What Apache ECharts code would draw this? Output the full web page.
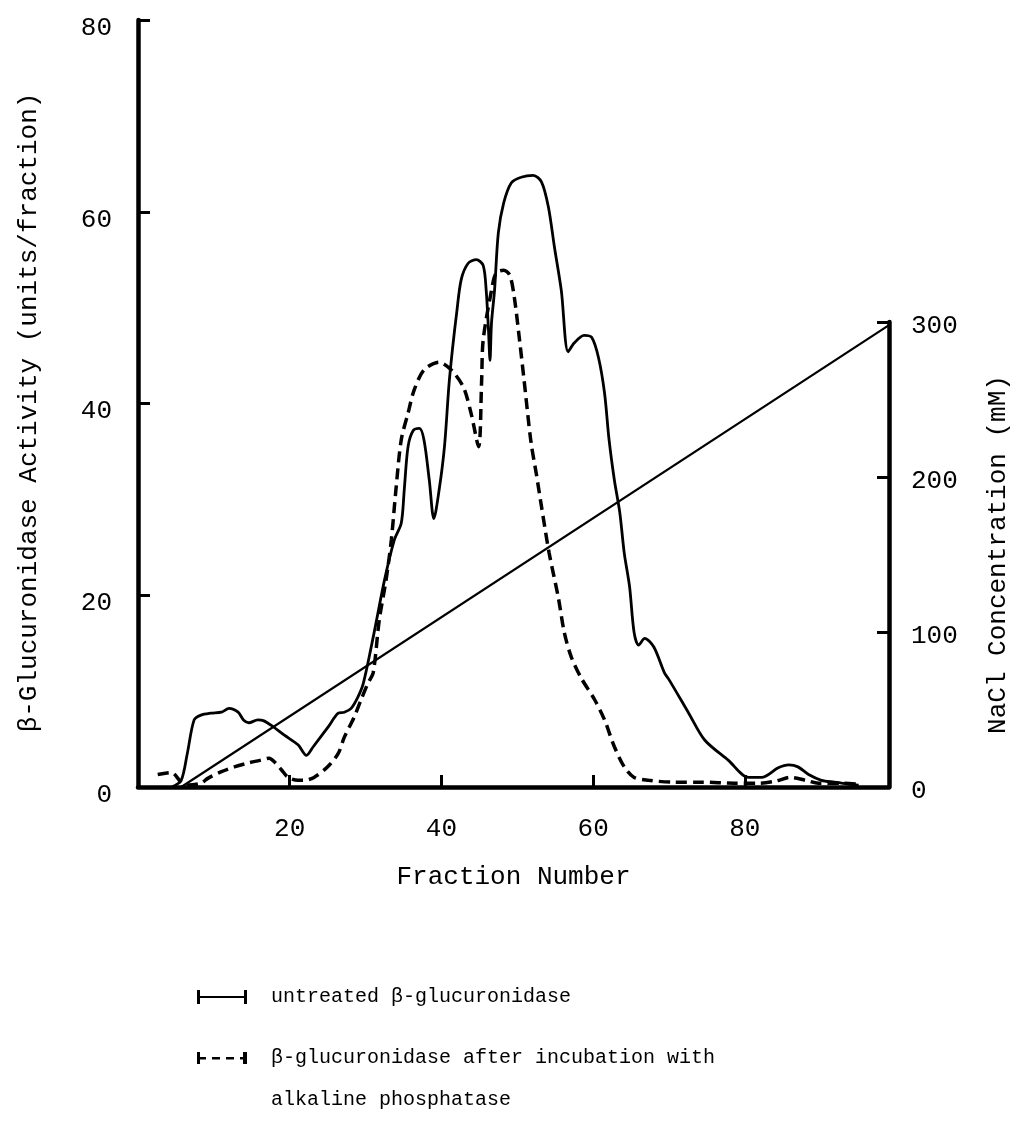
<!DOCTYPE html>
<html><head><meta charset="utf-8">
<script src="https://cdn.jsdelivr.net/npm/echarts@6/dist/echarts.min.js"></script>
<style>html,body{margin:0;padding:0;background:#fff}#c{width:1022px;height:1123px}</style>
</head><body><div id="c"></div>
<script>
// ---- data ----
const untreatedX = [4.5,5.7,6.5,7.4,8.3,9.6,11,12,13.2,13.9,14.6,15.8,16.6,17.8,19.3,21.1,22.2,23.1,25.1,26.4,27.2,28.1,29,29.7,31.1,32.5,33.8,34.7,35.1,35.6,36.3,37.1,37.7,38.4,39.0,39.7,40.4,41,41.5,42,42.6,43.5,44.6,45.5,45.9,46.2,46.4,46.6,47,47.5,48.2,49.2,50.5,52.1,53.2,54.1,54.9,55.8,56.7,57.5,58.8,59.8,60.7,61.5,62.1,62.8,63.5,64.1,64.8,65.4,66,66.8,68,69.4,70,72.6,74.7,77.8,80.5,82.2,84.4,85.8,87,88.4,90.1,91.8,93.7,95];
const untreatedY = [0,0.7,3.5,7,7.5,7.7,7.8,8.2,7.8,7.0,6.7,7.0,6.9,6.3,5.4,4.4,3.3,4.2,6.3,7.7,7.8,8.2,9.4,10.8,16,21.6,25.8,27.5,31,35.5,37.2,37.4,36.2,32,28,31,35.5,42,46,49.4,52.9,54.6,55,54.4,51.8,47.7,44.5,48.4,51.8,57.8,60.9,63,63.6,63.8,63.1,60.5,56.3,51.8,45.4,46.3,47.1,46.9,44.8,41.1,36.2,32,28.7,24.4,20.9,16.1,14.8,15.5,14.6,11.9,11.2,7.7,4.9,2.8,1.0,1.0,2.0,2.3,2.1,1.3,0.7,0.5,0.3,0.2];
const treatedX = [2.6,4.4,5.7,6.6,8.3,9.2,11,12.7,14.5,16.2,17.3,18,18.9,19.8,21.1,21.9,23.2,25,26.4,27.2,28.5,29.4,30.3,31,31.8,32.7,33.4,34,34.7,35.6,36.4,37.7,39.7,41.3,42.9,43.9,44.9,45.3,45.5,46.6,47.2,48.2,49,49.6,50.3,50.9,51.8,52.5,53.2,54.2,55.4,56.2,57.1,58.4,60.2,61.5,62.8,64.1,65.4,67.3,70.7,74.3,78.6,82,84,86,88,89.7,93,95];
const treatedY = [1.3,1.5,0.5,0.2,0.4,0.9,1.6,2.1,2.5,2.8,3.0,2.6,1.8,1.0,0.7,0.7,1.0,2.1,3.5,5.2,7.3,9.1,10.8,11.9,17.4,21.6,25.8,31,36.2,39,41.4,43.5,44.3,43.5,41.7,39,35.5,42.4,46.6,51.8,53.6,53.9,53.4,51.1,46.6,42.4,36,32.7,29.2,24.4,19.8,16.1,13.6,11.4,9.1,7,4.2,2.1,1.0,0.7,0.5,0.5,0.4,0.4,0.6,1.0,0.7,0.4,0.4,0.3];
const naclX = [5.7, 99];
const naclY = [0, 298];
const activityTicks = {min: 0, max: 80, interval: 20};
const naclTicks = {min: 0, max: 300, interval: 100};
const fractionTicks = {min: 0, max: 99, interval: 20};
const seriesNames = ['untreated β-glucuronidase', 'β-glucuronidase after incubation with\nalkaline phosphatase', 'NaCl'];

const zip = (xs, ys) => xs.map((x, i) => [x, ys[i]]);
const FONT = "'Liberation Mono', 'DejaVu Sans Mono', monospace";
const BLACK = '#000';
const FS = 26;

const chart = echarts.init(document.getElementById('c'), null, {renderer: 'canvas'});
const axisLine = {show: true, onZero: false, lineStyle: {color: BLACK, width: 4.5}};
const axisTick = {show: true, inside: true, length: 12, lineStyle: {color: BLACK, width: 3}};

chart.setOption({
  backgroundColor: '#fff',
  animation: false,
  textStyle: {fontFamily: FONT, color: BLACK},
  grid: [
    {left: 138, right: 133, top: 20, bottom: 336},
    {left: 138, right: 133, top: 322, bottom: 336}
  ],
  xAxis: [
    {type: 'value', gridIndex: 0, min: fractionTicks.min, max: fractionTicks.max, interval: fractionTicks.interval,
     axisLine: axisLine, axisTick: axisTick, splitLine: {show: false},
     axisLabel: {showMinLabel: false, showMaxLabel: false, margin: 29, fontSize: FS, color: BLACK, fontFamily: FONT,
       formatter: v => (v === 0 || v === fractionTicks.max) ? '' : String(v)},
     name: 'Fraction Number', nameLocation: 'middle', nameGap: 77,
     nameTextStyle: {fontSize: FS, color: BLACK, fontFamily: FONT}},
    {type: 'value', gridIndex: 1, min: fractionTicks.min, max: fractionTicks.max, show: false}
  ],
  yAxis: [
    {type: 'value', gridIndex: 0, position: 'left', min: activityTicks.min, max: activityTicks.max, interval: activityTicks.interval,
     axisLine: axisLine, axisTick: axisTick, splitLine: {show: false},
     axisLabel: {margin: 26, fontSize: FS, color: BLACK, fontFamily: FONT, verticalAlign: 'top', lineHeight: 16},
     name: 'β-Glucuronidase Activity (units/fraction)', nameLocation: 'middle', nameGap: 96, nameRotate: 90,
     nameTextStyle: {fontSize: FS, color: BLACK, fontFamily: FONT, padding: [0, 18, 0, 0]}},
    {type: 'value', gridIndex: 1, position: 'right', min: naclTicks.min, max: naclTicks.max, interval: naclTicks.interval,
     axisLine: axisLine, axisTick: axisTick, splitLine: {show: false},
     axisLabel: {margin: 22, fontSize: FS, color: BLACK, fontFamily: FONT, verticalAlign: 'top', lineHeight: 8},
     name: 'NaCl Concentration (mM)', nameLocation: 'middle', nameGap: 96, nameRotate: 90,
     nameTextStyle: {fontSize: FS, color: BLACK, fontFamily: FONT}}
  ],
  legend: {
    orient: 'vertical', left: 197, top: 985, height: 400, padding: 0,
    itemWidth: 50, itemHeight: 14, itemGap: -14,
    selectedMode: false,
    itemStyle: {color: BLACK, borderWidth: 0},
    lineStyle: {width: 0},
    textStyle: {fontSize: 20, color: BLACK, fontFamily: FONT},
    // a blank first line keeps the icon level with the first text line of the two-line entry
    formatter: name => (name.indexOf('\n') >= 0 ? '\n' + name : name),
    data: [
      {name: seriesNames[0], icon: 'path://M0,0H3V14H0Z M0,6H50V8H0Z M47,0H50V14H47Z',
       textStyle: {fontSize: 20, lineHeight: 24, padding: [0, 0, 0, 19]}},
      {name: seriesNames[1], icon: 'path://M0,1H3V13H0Z M0,6H9V8.5H0Z M15,6H23V8.5H15Z M29,6H37V8.5H29Z M43,6H50V8.5H43Z M46,1H50V13H46Z',
       textStyle: {fontSize: 20, lineHeight: 42, padding: [0, 0, 0, 19]}}
    ]
  },
  series: [
    {name: seriesNames[0], type: 'line', xAxisIndex: 0, yAxisIndex: 0, data: zip(untreatedX, untreatedY),
     showSymbol: false, smooth: 0.3, itemStyle: {color: BLACK}, lineStyle: {color: BLACK, width: 2.8}, z: 3},
    {name: seriesNames[1], type: 'line', xAxisIndex: 0, yAxisIndex: 0, data: zip(treatedX, treatedY),
     showSymbol: false, smooth: 0.3, itemStyle: {color: BLACK}, lineStyle: {color: BLACK, width: 3.5, type: [11, 6]}, z: 3},
    {name: seriesNames[2], type: 'line', xAxisIndex: 1, yAxisIndex: 1, data: zip(naclX, naclY),
     showSymbol: false, itemStyle: {color: BLACK}, lineStyle: {color: BLACK, width: 2.2}, z: 2}
  ]
});
</script>
</body></html>
